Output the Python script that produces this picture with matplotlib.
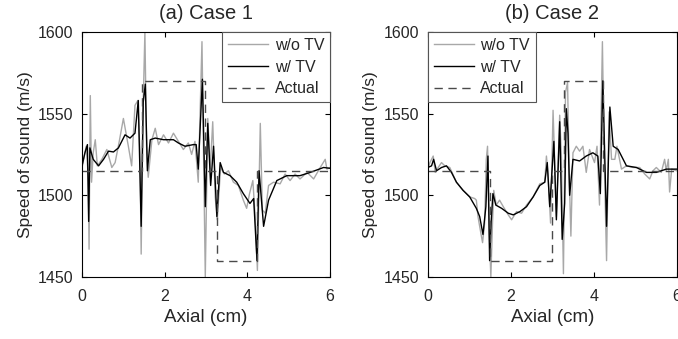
import matplotlib.pyplot as plt
import numpy as np

plt.rcParams['font.family'] = ['Liberation Sans', 'DejaVu Sans']
plt.rcParams['text.color'] = '#262626'
plt.rcParams['axes.labelcolor'] = '#262626'
plt.rcParams['xtick.labelcolor'] = '#262626'
plt.rcParams['ytick.labelcolor'] = '#262626'

# case 1 data
x1_raw = [0, 0.10, 0.15, 0.17, 0.20, 0.23, 0.27, 0.32, 0.37, 0.48, 0.60, 0.72, 0.80, 0.90,
          1.00, 1.12, 1.20, 1.28, 1.35, 1.40, 1.43, 1.47, 1.52, 1.56, 1.60, 1.69, 1.77, 1.85,
          1.97, 2.09, 2.21, 2.33, 2.45, 2.57, 2.65, 2.73, 2.81, 2.90, 2.98, 3.04, 3.10, 3.16,
          3.22, 3.27, 3.35, 3.44, 3.54, 3.66, 3.78, 3.90, 3.98, 4.05, 4.13, 4.19, 4.24, 4.31,
          4.36, 4.43, 4.51, 4.63, 4.79, 4.91, 5.03, 5.15, 5.27, 5.44, 5.60, 5.76, 5.88, 5.92, 6.0]
y1_raw = [1517, 1530, 1512, 1467, 1561, 1508, 1526, 1534, 1518, 1522, 1528, 1517, 1520, 1533,
          1547, 1530, 1518, 1555, 1558, 1526, 1464, 1547, 1600, 1530, 1511, 1534, 1541, 1531,
          1537, 1532, 1538, 1533, 1528, 1532, 1525, 1533, 1508, 1594, 1450, 1547, 1516, 1545,
          1499, 1485, 1517, 1513, 1515, 1508, 1506, 1497, 1492, 1501, 1509, 1485, 1454, 1544,
          1491, 1489, 1506, 1508, 1507, 1513, 1509, 1513, 1510, 1514, 1510, 1517, 1522, 1516, 1517]
x1_tv = [0, 0.07, 0.13, 0.16, 0.19, 0.27, 0.40, 0.52, 0.64, 0.76, 0.88, 1.04, 1.16, 1.28,
         1.36, 1.43, 1.48, 1.53, 1.58, 1.65, 1.77, 1.97, 2.21, 2.33, 2.49, 2.69, 2.76, 2.81,
         2.91, 2.98, 3.04, 3.11, 3.18, 3.26, 3.34, 3.42, 3.58, 3.74, 3.90, 4.06, 4.15, 4.23,
         4.28, 4.39, 4.51, 4.71, 4.95, 5.27, 5.52, 5.84, 6.0]
y1_tv = [1518, 1526, 1531, 1484, 1529, 1522, 1518, 1522, 1527, 1526.5, 1529, 1537, 1535, 1538,
         1558, 1481, 1557, 1568, 1515, 1534, 1535, 1534, 1534, 1532, 1530, 1531, 1531, 1516,
         1571, 1493, 1544, 1506, 1530, 1487, 1520, 1514, 1512, 1508, 1501, 1495, 1498, 1460,
         1515, 1481, 1497, 1509, 1512, 1512, 1514, 1517, 1516.5]
x1_act = [0, 1.45, 1.45, 2.97, 2.97, 3.27, 3.27, 4.23, 4.23, 6]
y1_act = [1515, 1515, 1570, 1570, 1515, 1515, 1460, 1460, 1515, 1515]

# case 2 data
x2_raw = [0, 0.05, 0.13, 0.18, 0.25, 0.33, 0.41, 0.53, 0.69, 0.85, 1.01, 1.13, 1.17, 1.21,
          1.25, 1.32, 1.37, 1.41, 1.44, 1.48, 1.52, 1.56, 1.59, 1.65, 1.73, 1.82, 1.94, 2.02,
          2.14, 2.26, 2.38, 2.54, 2.70, 2.82, 2.86, 2.90, 2.96, 3.02, 3.10, 3.18, 3.22, 3.27,
          3.32, 3.37, 3.41, 3.45, 3.50, 3.58, 3.66, 3.74, 3.82, 3.90, 4.02, 4.08, 4.14, 4.21,
          4.25, 4.31, 4.37, 4.43, 4.51, 4.56, 4.67, 4.79, 4.95, 5.11, 5.23, 5.35, 5.43, 5.51,
          5.63, 5.71, 5.75, 5.80, 5.83, 5.88, 6.0]
y2_raw = [1516, 1520, 1524, 1514, 1517, 1520, 1518, 1517, 1508, 1503, 1499, 1498, 1497, 1487,
          1481, 1471, 1483, 1522, 1530, 1477, 1450, 1483, 1503, 1494, 1497, 1493, 1488, 1485,
          1490, 1489, 1494, 1499, 1507, 1508, 1524, 1512, 1483, 1552, 1487, 1549, 1524, 1452,
          1563, 1569, 1512, 1475, 1526, 1530, 1527, 1530, 1514, 1528, 1520, 1530, 1494, 1594,
          1526, 1460, 1551, 1522, 1522, 1530, 1516, 1518, 1517, 1517, 1513, 1510, 1515, 1517,
          1514, 1522, 1515, 1522, 1502, 1516, 1515]
x2_tv = [0, 0.09, 0.14, 0.21, 0.33, 0.45, 0.57, 0.69, 0.85, 1.01, 1.17, 1.25, 1.33, 1.40,
         1.45, 1.49, 1.53, 1.57, 1.64, 1.78, 1.94, 2.06, 2.22, 2.38, 2.54, 2.70, 2.82, 2.88,
         2.94, 3.04, 3.10, 3.18, 3.24, 3.30, 3.34, 3.38, 3.42, 3.50, 3.66, 3.82, 3.98, 4.10,
         4.16, 4.22, 4.31, 4.39, 4.47, 4.59, 4.79, 5.03, 5.27, 5.51, 5.75, 6.0]
y2_tv = [1517, 1518, 1522, 1515, 1517, 1518, 1514, 1508, 1503, 1499, 1492, 1487, 1476, 1493,
         1524, 1460, 1485, 1501, 1494, 1492, 1489, 1488, 1490, 1493, 1499, 1506, 1508, 1520,
         1493, 1533, 1485, 1545, 1473, 1495, 1553, 1538, 1500, 1522, 1521, 1524, 1526, 1524,
         1501, 1570, 1481, 1554, 1530, 1528, 1518, 1517, 1514, 1514, 1516, 1516]
x2_act = [0, 1.49, 1.49, 3.0, 3.0, 3.28, 3.28, 4.22, 4.22, 6]
y2_act = [1515, 1515, 1460, 1460, 1515, 1515, 1570, 1570, 1515, 1515]

fig = plt.figure(figsize=(6.78, 3.39), dpi=100)
ax1 = fig.add_axes([0.121, 0.183, 0.366, 0.723])
ax2 = fig.add_axes([0.631, 0.183, 0.367, 0.723])

cases = [(ax1, x1_raw, y1_raw, x1_tv, y1_tv, x1_act, y1_act, '(a) Case 1', 'upper right'),
         (ax2, x2_raw, y2_raw, x2_tv, y2_tv, x2_act, y2_act, '(b) Case 2', 'upper left')]

for ax, xr, yr, xt, yt, xa, ya, title, loc in cases:
    ax.plot(xr, yr, color='#a8a8a8', lw=1.0, label='w/o TV')
    ax.plot(xt, yt, color='black', lw=1.0, label='w/ TV')
    ax.plot(xa, ya, color='#4a4a4a', lw=1.0, dashes=(6, 4), label='Actual')
    ax.set_xlim(0, 6)
    ax.set_ylim(1450, 1600)
    ax.set_xticks([0, 2, 4, 6])
    ax.set_yticks([1450, 1500, 1550, 1600])
    ax.tick_params(direction='in', top=True, right=True, labelsize=11.5, length=3.5)
    ax.tick_params(axis='x', pad=9)
    ax.tick_params(axis='y', pad=6)
    ax.set_xlabel('Axial (cm)', fontsize=13.5, labelpad=3)
    ax.set_ylabel('Speed of sound (m/s)', fontsize=12.5, labelpad=4)
    ax.set_title(title, fontsize=14.5, pad=9)
    leg = ax.legend(loc=loc, fontsize=11.5, handlelength=2.5, borderaxespad=0,
                    fancybox=False, framealpha=1, edgecolor='#555555',
                    labelspacing=0.42, borderpad=0.38, handletextpad=0.4)
    leg.get_frame().set_linewidth(0.8)

plt.savefig('out.png', dpi=100)
